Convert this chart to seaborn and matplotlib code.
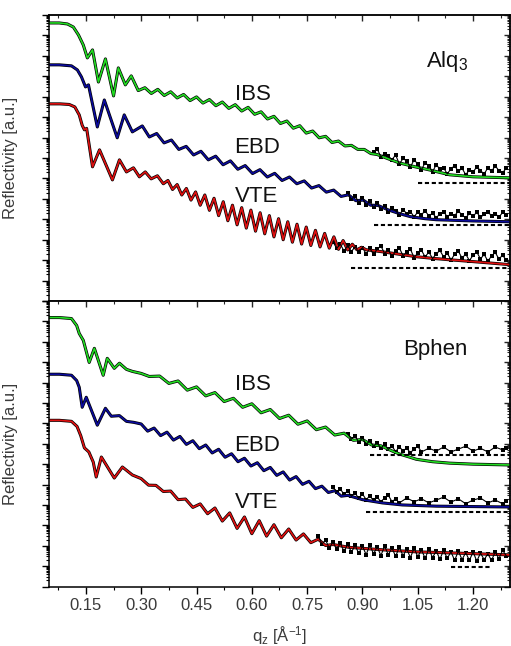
import numpy as np
import pandas as pd
import matplotlib
matplotlib.use("Agg")
import matplotlib.pyplot as plt
import seaborn as sns
from matplotlib.ticker import MultipleLocator, LogLocator, NullFormatter, FuncFormatter

# ---------------- data: log10 reflectivity (arbitrary offsets) vs q_z ----------------
# Alq3 panel
ALQ_IBS_Q = [0.048, 0.078, 0.100, 0.116, 0.130, 0.143, 0.154, 0.168, 0.184, 0.203,
             0.225, 0.238, 0.257, 0.273, 0.292, 0.310, 0.3275, 0.345, 0.3625, 0.380,
             0.3975, 0.415, 0.4325, 0.450, 0.4675, 0.485, 0.5025, 0.520, 0.5375, 0.555,
             0.5725, 0.590, 0.6075, 0.625, 0.6425, 0.660, 0.6775, 0.695, 0.7125, 0.730,
             0.7475, 0.765, 0.7825, 0.800, 0.8175, 0.835, 0.8525, 0.870, 0.8875, 0.905,
             0.9225, 0.940, 0.970, 1.000, 1.040, 1.081, 1.136, 1.200, 1.300]
ALQ_IBS_R = [-0.39, -0.39, -0.44, -0.59, -0.98, -1.47, -2.10, -1.71, -3.28, -2.15,
             -3.96, -2.59, -3.42, -2.98, -3.70, -3.56, -3.84, -3.64, -3.94, -3.76,
             -4.06, -3.89, -4.19, -4.01, -4.31, -4.14, -4.44, -4.26, -4.57, -4.39,
             -4.70, -4.52, -4.86, -4.74, -5.09, -4.96, -5.31, -5.19, -5.54, -5.42,
             -5.78, -5.68, -6.01, -5.94, -6.24, -6.17, -6.41, -6.38, -6.58, -6.58,
             -6.78, -6.83, -7.04, -7.24, -7.42, -7.58, -7.82, -7.92, -7.97]

ALQ_EBD_Q = [0.048, 0.078, 0.111, 0.127, 0.138, 0.149, 0.157, 0.181, 0.200, 0.235,
             0.254, 0.276, 0.303, 0.322, 0.342, 0.362, 0.382, 0.402, 0.422, 0.442,
             0.462, 0.482, 0.502, 0.522, 0.542, 0.562, 0.582, 0.602, 0.622, 0.642,
             0.662, 0.682, 0.702, 0.722, 0.742, 0.762, 0.782, 0.802, 0.822, 0.842,
             0.862, 0.882, 0.902, 0.922, 0.942, 0.970, 1.000, 1.030, 1.070, 1.100,
             1.200, 1.300]
ALQ_EBD_R = [-2.44, -2.44, -2.49, -2.69, -3.03, -3.52, -3.42, -5.48, -4.16, -6.01,
             -4.89, -5.72, -5.43, -5.97, -5.80, -6.26, -6.12, -6.58, -6.43, -6.85,
             -6.67, -7.09, -6.91, -7.33, -7.14, -7.55, -7.37, -7.76, -7.57, -7.93,
             -7.75, -8.10, -7.93, -8.26, -8.12, -8.47, -8.35, -8.67, -8.57, -8.88,
             -8.80, -9.09, -9.06, -9.31, -9.32, -9.54, -9.72, -9.87, -9.97, -10.02,
             -10.08, -10.12]

ALQ_VTE_Q = [0.048, 0.080, 0.105, 0.120, 0.132, 0.140, 0.146, 0.152, 0.168, 0.187,
             0.222, 0.241, 0.260, 0.279, 0.295, 0.311, 0.327, 0.344, 0.360, 0.3725,
             0.385, 0.3975, 0.410, 0.4225, 0.435, 0.4475, 0.460, 0.4725, 0.485, 0.4975,
             0.510, 0.5225, 0.535, 0.5475, 0.560, 0.5725, 0.585, 0.5975, 0.610, 0.6225,
             0.635, 0.6475, 0.660, 0.6725, 0.685, 0.6975, 0.710, 0.7225, 0.735, 0.7475,
             0.760, 0.7725, 0.785, 0.7975, 0.810, 0.8225, 0.835, 0.8475, 0.860, 0.8725,
             0.885, 0.8975, 0.910, 0.954, 1.000, 1.046, 1.090, 1.136, 1.200, 1.300]
ALQ_VTE_R = [-4.35, -4.35, -4.38, -4.50, -4.89, -5.40, -5.62, -5.55, -7.43, -6.60,
             -8.07, -7.09, -7.68, -7.48, -7.92, -7.68, -8.02, -7.87, -8.26, -8.10,
             -8.54, -8.30, -8.81, -8.49, -9.06, -8.66, -9.31, -8.81, -9.56, -8.97,
             -9.82, -9.14, -10.07, -9.31, -10.27, -9.43, -10.43, -9.55, -10.58, -9.68,
             -10.71, -9.82, -10.86, -9.97, -11.00, -10.12, -11.12, -10.24, -11.21, -10.38,
             -11.28, -10.54, -11.35, -10.69, -11.41, -10.86, -11.47, -11.04, -11.50, -11.22,
             -11.49, -11.37, -11.49, -11.59, -11.71, -11.83, -11.91, -11.98, -12.07, -12.22]

# Bphen panel
BPH_IBS_Q = [0.048, 0.078, 0.111, 0.125, 0.132, 0.143, 0.159, 0.173, 0.197, 0.208,
             0.227, 0.241, 0.260, 0.276, 0.300, 0.322, 0.350, 0.375, 0.400, 0.425,
             0.450, 0.475, 0.500, 0.525, 0.550, 0.575, 0.600, 0.625, 0.650, 0.675,
             0.700, 0.725, 0.750, 0.775, 0.800, 0.825, 0.850, 0.875, 0.900, 0.925,
             0.950, 0.980, 1.000, 1.027, 1.046, 1.090, 1.136, 1.200, 1.300]
BPH_IBS_R = [-0.81, -0.81, -0.86, -1.20, -1.59, -1.93, -3.01, -2.32, -3.64, -2.81,
             -3.30, -3.05, -3.35, -3.45, -3.55, -3.70, -3.68, -4.04, -3.92, -4.37,
             -4.21, -4.65, -4.49, -4.93, -4.77, -5.21, -5.04, -5.48, -5.32, -5.76,
             -5.60, -6.04, -5.88, -6.31, -6.18, -6.57, -6.48, -6.83, -6.79, -7.06,
             -7.10, -7.35, -7.50, -7.65, -7.76, -7.88, -7.95, -8.00, -8.04]

BPH_EBD_Q = [0.048, 0.078, 0.111, 0.125, 0.132, 0.140, 0.151, 0.181, 0.203, 0.219,
             0.241, 0.260, 0.280, 0.300, 0.3175, 0.335, 0.3525, 0.370, 0.3875, 0.405,
             0.4225, 0.440, 0.4575, 0.475, 0.4925, 0.510, 0.5275, 0.545, 0.5625, 0.580,
             0.5975, 0.615, 0.6325, 0.650, 0.6675, 0.685, 0.7025, 0.720, 0.7375, 0.755,
             0.7725, 0.790, 0.8075, 0.825, 0.8425, 0.860, 0.900, 0.954, 1.008, 1.100,
             1.200, 1.300]
BPH_EBD_R = [-3.59, -3.59, -3.64, -3.90, -4.23, -5.21, -4.72, -6.09, -5.26, -5.65,
             -5.62, -5.90, -5.95, -6.03, -6.38, -6.23, -6.60, -6.43, -6.82, -6.64,
             -7.03, -6.85, -7.24, -7.06, -7.45, -7.27, -7.66, -7.49, -7.88, -7.71,
             -8.09, -7.93, -8.32, -8.16, -8.55, -8.38, -8.78, -8.61, -8.99, -8.84,
             -9.20, -9.08, -9.39, -9.30, -9.57, -9.53, -9.74, -9.90, -10.00, -10.06,
             -10.08, -10.10]

BPH_VTE_Q = [0.048, 0.078, 0.111, 0.126, 0.136, 0.146, 0.158, 0.170, 0.178, 0.192,
             0.227, 0.249, 0.276, 0.300, 0.320, 0.340, 0.360, 0.380, 0.400, 0.420,
             0.440, 0.460, 0.480, 0.500, 0.520, 0.540, 0.560, 0.580, 0.600, 0.620,
             0.640, 0.660, 0.680, 0.700, 0.720, 0.740, 0.760, 0.780, 0.800, 0.820,
             0.864, 0.954, 1.046, 1.136, 1.300]
BPH_VTE_R = [-5.85, -5.85, -5.90, -6.15, -6.60, -7.20, -7.40, -7.90, -8.63, -7.65,
             -8.68, -8.14, -8.53, -8.71, -9.03, -9.04, -9.34, -9.32, -9.74, -9.71,
             -10.12, -9.95, -10.43, -10.15, -10.79, -10.39, -11.15, -10.59, -11.41, -10.77,
             -11.53, -10.97, -11.61, -11.18, -11.72, -11.42, -11.85, -11.68, -11.99, -11.94,
             -12.08, -12.20, -12.30, -12.35, -12.45]

# scattered measured points in the background-limited tail
ALQ_IBS_NOISE_Q = [0.93, 0.94, 0.95, 0.96, 0.97, 0.98, 0.99, 1.00, 1.01, 1.02, 1.03, 1.04,
                   1.05, 1.06, 1.07, 1.08, 1.09, 1.10, 1.11, 1.12, 1.13, 1.14, 1.15, 1.16,
                   1.17, 1.18, 1.19, 1.20, 1.21, 1.22, 1.23, 1.24, 1.25, 1.26, 1.27, 1.28, 1.29]
ALQ_IBS_NOISE_R = [-6.70, -6.55, -6.95, -6.78, -6.90, -7.08, -6.85, -7.30, -7.02, -7.15, -7.45, -7.08,
                   -7.30, -7.58, -7.22, -7.40, -7.68, -7.32, -7.55, -7.48, -7.78, -7.52, -7.38, -7.66,
                   -7.50, -7.82, -7.58, -7.70, -7.42, -7.62, -7.78, -7.48, -7.66, -7.38, -7.62, -7.72, -7.50]

ALQ_EBD_NOISE_Q = [0.86, 0.87, 0.88, 0.89, 0.90, 0.91, 0.92, 0.93, 0.94, 0.95, 0.96, 0.97,
                   0.98, 0.99, 1.00, 1.01, 1.02, 1.03, 1.04, 1.05, 1.06, 1.07, 1.08, 1.09,
                   1.10, 1.11, 1.12, 1.13, 1.14, 1.15, 1.16, 1.17, 1.18, 1.19, 1.20, 1.21,
                   1.22, 1.23, 1.24, 1.25, 1.26, 1.27, 1.28, 1.29]
ALQ_EBD_NOISE_R = [-8.70, -9.02, -8.84, -9.18, -8.95, -9.30, -9.12, -9.42, -9.22, -9.50, -9.35, -9.66,
                   -9.45, -9.58, -9.80, -9.52, -9.72, -9.62, -9.88, -9.64, -9.78, -9.58, -9.84, -9.70,
                   -9.92, -9.74, -9.62, -9.88, -9.72, -9.82, -9.60, -9.78, -9.94, -9.70, -9.84, -9.66,
                   -9.90, -9.76, -9.62, -9.84, -9.72, -9.90, -9.66, -9.80]

ALQ_VTE_NOISE_Q = [0.82, 0.83, 0.84, 0.85, 0.86, 0.87, 0.88, 0.89, 0.90, 0.91, 0.92, 0.93,
                   0.94, 0.95, 0.96, 0.97, 0.98, 0.99, 1.00, 1.01, 1.02, 1.03, 1.04, 1.05,
                   1.06, 1.07, 1.08, 1.09, 1.10, 1.11, 1.12, 1.13, 1.14, 1.15, 1.16, 1.17,
                   1.18, 1.19, 1.20, 1.21, 1.22, 1.23, 1.24, 1.25, 1.26, 1.27, 1.28, 1.29]
ALQ_VTE_NOISE_R = [-11.10, -11.42, -11.22, -11.55, -11.28, -11.58, -11.34, -11.62, -11.38, -11.70,
                   -11.42, -11.72, -11.46, -11.30, -11.68, -11.50, -11.82, -11.56, -11.40, -11.78,
                   -11.60, -11.46, -11.88, -11.64, -11.52, -11.84, -11.60, -11.92, -11.70, -11.52,
                   -11.84, -11.66, -11.98, -11.72, -11.56, -11.90, -11.70, -12.02, -11.76, -11.60,
                   -11.94, -11.72, -12.04, -11.80, -11.62, -11.94, -11.76, -12.00]

BPH_IBS_NOISE_Q = [0.86, 0.87, 0.88, 0.89, 0.90, 0.91, 0.92, 0.93, 0.94, 0.95, 0.96, 0.97,
                   0.98, 0.99, 1.00, 1.01, 1.02, 1.03, 1.04, 1.05, 1.06, 1.08, 1.10, 1.12,
                   1.14, 1.16, 1.18, 1.20, 1.22, 1.24, 1.26, 1.28, 1.29]
BPH_IBS_NOISE_R = [-6.50, -6.78, -6.62, -6.92, -6.72, -7.02, -6.86, -7.12, -6.96, -7.22, -7.02, -7.28,
                   -7.12, -7.38, -7.16, -7.34, -7.22, -7.44, -7.26, -7.12, -7.40, -7.22, -7.36, -7.16,
                   -7.40, -7.26, -7.12, -7.36, -7.22, -7.40, -7.16, -7.30, -7.22]

BPH_EBD_NOISE_Q = [0.82, 0.83, 0.84, 0.85, 0.86, 0.87, 0.88, 0.89, 0.90, 0.91, 0.92, 0.93,
                   0.94, 0.95, 0.96, 0.97, 0.98, 0.99, 1.00, 1.02, 1.04, 1.06, 1.08, 1.10,
                   1.12, 1.14, 1.16, 1.18, 1.20, 1.22, 1.24, 1.26, 1.28, 1.29]
BPH_EBD_NOISE_R = [-9.10, -9.38, -9.22, -9.48, -9.30, -9.58, -9.42, -9.68, -9.46, -9.74, -9.56, -9.78,
                   -9.62, -9.84, -9.66, -9.52, -9.84, -9.70, -9.90, -9.66, -9.84, -9.70, -9.90, -9.76,
                   -9.62, -9.86, -9.70, -9.94, -9.76, -9.66, -9.90, -9.76, -9.94, -9.80]

BPH_VTE_NOISE_Q = [0.78, 0.79, 0.80, 0.81, 0.82, 0.83, 0.84, 0.85, 0.86, 0.87, 0.88, 0.89,
                   0.90, 0.91, 0.92, 0.93, 0.94, 0.95, 0.96, 0.97, 0.98, 0.99, 1.00, 1.01,
                   1.02, 1.03, 1.04, 1.05, 1.06, 1.07, 1.08, 1.09, 1.10, 1.11, 1.12, 1.13,
                   1.14, 1.15, 1.16, 1.17, 1.18, 1.19, 1.20, 1.21, 1.22, 1.23, 1.24, 1.25,
                   1.26, 1.27, 1.28, 1.29]
BPH_VTE_NOISE_R = [-11.50, -11.92, -11.72, -12.12, -11.82, -12.18, -11.88, -12.28, -11.92, -12.32,
                   -11.98, -12.38, -12.02, -12.44, -11.96, -12.40, -12.06, -12.48, -12.02, -12.44,
                   -12.12, -12.52, -12.06, -12.50, -12.16, -12.58, -12.12, -12.54, -12.20, -12.62,
                   -12.16, -12.58, -12.26, -12.66, -12.22, -12.62, -12.30, -12.72, -12.26, -12.68,
                   -12.34, -12.72, -12.30, -12.76, -12.36, -12.68, -12.40, -12.72, -12.30, -12.64,
                   -12.22, -12.50]

# lowest-count rows of the detector (log10 level, q start, q end)
ALQ_FLOOR_LEVEL = [-8.22, -10.27, -12.37]
ALQ_FLOOR_START = [1.05, 0.93, 0.87]
ALQ_FLOOR_END = [1.30, 1.30, 1.30]
BPH_FLOOR_LEVEL = [-7.55, -10.35, -13.03]
BPH_FLOOR_START = [0.92, 0.91, 1.14]
BPH_FLOOR_END = [1.30, 1.30, 1.25]

SAMPLES = ["IBS", "EBD", "VTE"]
FIT_COLORS = ["#22dd22", "#0b0b9c", "#e01010"]

# label anchors (q, log10 R)
ALQ_LABEL_R = [-3.89, -6.48, -8.88]
BPH_LABEL_R = [-4.11, -7.07, -9.90]
LABEL_Q = 0.553

# ---------------- figure ----------------
sns.set_theme(style="white")
plt.rcParams["font.family"] = ["Liberation Sans", "DejaVu Sans"]
plt.rcParams["mathtext.fontset"] = "custom"
plt.rcParams["mathtext.rm"] = "Liberation Sans"
plt.rcParams["mathtext.it"] = "Liberation Sans:italic"
plt.rcParams["mathtext.default"] = "regular"

GREY = "#3a3a3a"

fig = plt.figure(figsize=(5.11, 6.46), dpi=100)
ax_top = fig.add_axes([0.0959, 0.534, 0.9021, 0.4428])
ax_bot = fig.add_axes([0.0959, 0.0921, 0.9021, 0.4419])


def frame(df_q, df_r):
    return pd.DataFrame({"q": df_q, "R": np.power(10.0, np.asarray(df_r, dtype=float))})


def draw_panel(ax, curves, noises, floors, label_r, title, title_pos):
    ax.set_yscale("log")
    ax.set_xlim(0.05, 1.30)
    ax.set_ylim(1e-14, 1e0)
    for (q, r), color in zip(curves, FIT_COLORS):
        df = frame(q, r)
        # measured data (black) beneath the fitted model (colour)
        sns.lineplot(data=df, x="q", y="R", ax=ax, color="black", lw=2.2,
                     sort=False, estimator=None)
        sns.lineplot(data=df, x="q", y="R", ax=ax, color=color, lw=1.2,
                     sort=False, estimator=None)
    for q, r in noises:
        dn = frame(q, r)
        sns.lineplot(data=dn, x="q", y="R", ax=ax, color="black", lw=0.8,
                     sort=False, estimator=None)
        sns.scatterplot(data=dn, x="q", y="R", ax=ax, color="black", marker="s",
                        s=6, linewidth=0)
    for lvl, q0, q1 in zip(*floors):
        ax.hlines(10.0 ** lvl, q0, q1, colors="black", lw=1.5,
                  linestyles=(0, (2.0, 1.3)))
    for name, lr in zip(SAMPLES, label_r):
        ax.text(LABEL_Q, 10.0 ** lr, name, fontsize=16, color="#111111",
                ha="left", va="center")
    ax.text(title_pos[0], 10.0 ** title_pos[1], title, fontsize=16,
            color="#111111", ha="center", va="center")

    ax.set_xlabel("")
    ax.set_ylabel("Reflectivity [a.u.]", fontsize=12, color=GREY, labelpad=14)
    ax.xaxis.set_major_locator(MultipleLocator(0.15))
    ax.xaxis.set_minor_locator(MultipleLocator(0.075))
    ax.yaxis.set_major_locator(LogLocator(base=10, numticks=100))
    ax.yaxis.set_minor_locator(LogLocator(base=10, subs=np.arange(2, 10), numticks=100))
    ax.yaxis.set_major_formatter(NullFormatter())
    ax.yaxis.set_minor_formatter(NullFormatter())
    ax.tick_params(axis="both", which="both", left=True, bottom=True, top=False,
                   right=False)
    ax.tick_params(axis="both", which="major", direction="out", length=5, width=1.0,
                   color="black", labelsize=12, labelcolor=GREY)
    ax.tick_params(axis="both", which="minor", direction="out", length=2.5, width=0.8,
                   color="black")
    for side in ["left", "right", "top", "bottom"]:
        ax.spines[side].set_color("black")
        ax.spines[side].set_linewidth(1.1)

    # inward ticks on the opposite sides
    sec_x = ax.secondary_xaxis("top")
    sec_x.xaxis.set_major_locator(MultipleLocator(0.15))
    sec_x.xaxis.set_minor_locator(MultipleLocator(0.075))
    sec_x.tick_params(axis="x", which="both", top=True, labeltop=False)
    sec_x.tick_params(axis="x", which="major", direction="in", length=4, width=1.0)
    sec_x.tick_params(axis="x", which="minor", direction="in", length=2, width=0.8)
    sec_x.spines["top"].set_linewidth(1.1)
    sec_y = ax.secondary_yaxis("right")
    sec_y.yaxis.set_major_locator(LogLocator(base=10, numticks=100))
    sec_y.yaxis.set_minor_locator(LogLocator(base=10, subs=np.arange(2, 10), numticks=100))
    sec_y.yaxis.set_major_formatter(NullFormatter())
    sec_y.yaxis.set_minor_formatter(NullFormatter())
    sec_y.tick_params(axis="y", which="both", right=True, labelright=False)
    sec_y.tick_params(axis="y", which="major", direction="in", length=4, width=1.0)
    sec_y.tick_params(axis="y", which="minor", direction="in", length=2, width=0.8)
    sec_y.spines["right"].set_linewidth(1.1)


draw_panel(ax_top,
           [(ALQ_IBS_Q, ALQ_IBS_R), (ALQ_EBD_Q, ALQ_EBD_R), (ALQ_VTE_Q, ALQ_VTE_R)],
           [(ALQ_IBS_NOISE_Q, ALQ_IBS_NOISE_R), (ALQ_EBD_NOISE_Q, ALQ_EBD_NOISE_R),
            (ALQ_VTE_NOISE_Q, ALQ_VTE_NOISE_R)],
           (ALQ_FLOOR_LEVEL, ALQ_FLOOR_START, ALQ_FLOOR_END),
           ALQ_LABEL_R, "Alq$_3$", (1.130, -2.30))
draw_panel(ax_bot,
           [(BPH_IBS_Q, BPH_IBS_R), (BPH_EBD_Q, BPH_EBD_R), (BPH_VTE_Q, BPH_VTE_R)],
           [(BPH_IBS_NOISE_Q, BPH_IBS_NOISE_R), (BPH_EBD_NOISE_Q, BPH_EBD_NOISE_R),
            (BPH_VTE_NOISE_Q, BPH_VTE_NOISE_R)],
           (BPH_FLOOR_LEVEL, BPH_FLOOR_START, BPH_FLOOR_END),
           BPH_LABEL_R, "Bphen", (1.098, -2.37))

ax_top.tick_params(axis="x", labelbottom=False)
ax_bot.set_xlabel("q$_z$ [Å$^{-1}$]", fontsize=12, color=GREY, labelpad=8)
ax_bot.xaxis.set_major_formatter(FuncFormatter(lambda v, p: f"{v:.2f}"))

fig.savefig("out.png", dpi=100)
